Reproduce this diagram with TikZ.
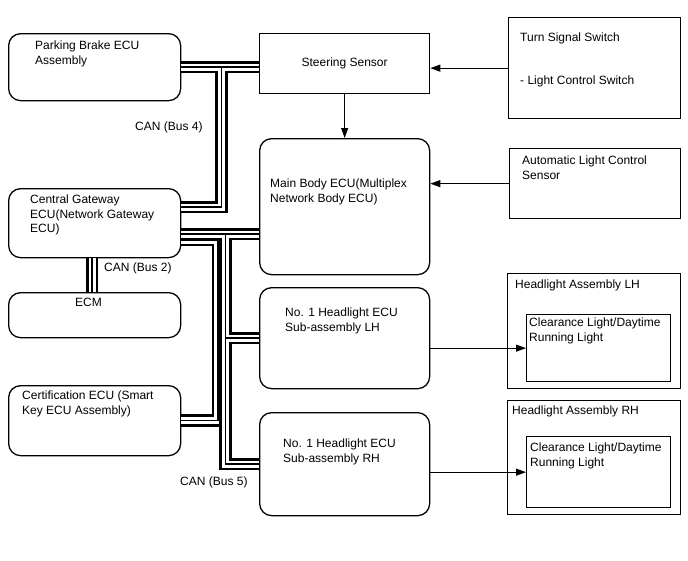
\documentclass[tikz,border=0pt]{standalone}
\usepackage{fontspec}
\setmainfont{Liberation Sans}
\usetikzlibrary{calc,arrows.meta}
\def\fs{\fontsize{12}{14.5}\selectfont}
\def\canbus#1{\draw[line width=12.5]#1; \draw[line width=7, white]#1; \draw[line width=1.6]#1;}
\tikzset{
  ecu/.style={draw, line width=1.3, rounded corners=12, anchor=north west, inner sep=0},
  unit/.style={draw, line width=1.3, anchor=north west, inner sep=0},
  txt/.style={anchor=north west, align=left, inner sep=0, font=\fs},
  sig/.style={line width=1, -{Triangle[length=10pt,width=7pt]}},
}

\begin{document}
\begin{tikzpicture}[x=1pt, y=-1pt]
			\useasboundingbox (0,0) rectangle (688,560);
			
			%%%%% BOXES %%%%%
			\node[ecu, minimum width=172, minimum height=67] (pb) at (8,33) {};
			\node[unit, minimum width=170, minimum height=60, font=\fs] (steer) at (259,33) {Steering Sensor};
			\node[unit, minimum width=172, minimum height=101] (turn) at (508,17) {};
			\node[ecu, minimum width=170, minimum height=136] (main) at (259,138) {};
			\node[unit, minimum width=171, minimum height=70] (auto) at (509,148) {};
			\node[ecu, minimum width=172, minimum height=69] (gw) at (8,188) {};
			\node[ecu, minimum width=172, minimum height=45] (ecm) at (8,292) {};
			\node[ecu, minimum width=170, minimum height=101] (lh) at (259,287) {};
			\node[unit, minimum width=173, minimum height=115] (hlh) at (507,273) {};
			\node[unit, minimum width=144, minimum height=67] (lhlamp) at (526,314) {};
			\node[ecu, minimum width=172, minimum height=70] (cert) at (8,385) {};
			\node[ecu, minimum width=170, minimum height=103] (rh) at (259,412) {};
			\node[unit, minimum width=173, minimum height=114] (hrh) at (507,400) {};
			\node[unit, minimum width=144, minimum height=71] (rhlamp) at (526,436) {};
			
			%%%%% TEXTS %%%%%
			\node[txt] (pbtxt) at (35,41) {Parking Brake ECU\\Assembly};
			\node[txt] (turntxt) at (520,33) {Turn Signal Switch\\[28pt]- Light Control Switch};
			\node[txt] (maintxt) at (270,179) {Main Body ECU(Multiplex\\Network Body ECU)};
			\node[txt] (autotxt) at (522,156) {Automatic Light Control\\Sensor};
			\node[txt] (gwtxt) at (30,195) {Central Gateway\\ECU(Network Gateway\\ECU)};
			\node[txt] (ecmtxt) at (75,298) {ECM};
			\node[txt] (lhtxt) at (285,308) {No. 1 Headlight ECU\\Sub-assembly LH};
			\node[txt] (hlhtxt) at (515,280) {Headlight Assembly LH};
			\node[txt] (lhlamptxt) at (529,318) {Clearance Light/Daytime\\Running Light};
			\node[txt] (certtxt) at (22,391) {Certification ECU (Smart\\Key ECU Assembly)};
			\node[txt] (rhtxt) at (283,439) {No. 1 Headlight ECU\\Sub-assembly RH};
			\node[txt] (hrhtxt) at (512,406) {Headlight Assembly RH};
			\node[txt] (rhlamptxt) at (530,443) {Clearance Light/Daytime\\Running Light};
			\node[txt] (bus4) at (135,122) {CAN (Bus 4)};
			\node[txt] (bus2) at (104,263) {CAN (Bus 2)};
			\node[txt] (bus5) at (180,477) {CAN (Bus 5)};
			
			%%%%% SIGNALS %%%%%
			\draw[sig] (turn.west) -- (turn.west -| steer.east);
			\draw[sig] (steer.south) -- (main.north);
			\draw[sig] (auto.west) -- (auto.west -| main.east);
			\draw[sig] (lhlamp.west -| lh.east) -- (lhlamp.west);
			\draw[sig] (rhlamp.west -| rh.east) -- (rhlamp.west);
			
			%%%%% CAN BUSES %%%%%
			\coordinate (k4) at ($(pb.east)+(40,0)$);
			\coordinate (g4) at ($(gw.north east)+(0,19)$);
			\canbus{(pb.east) -- (pb.east -| steer.west) (k4) -- (k4 |- g4) -- (g4)}
			
			\coordinate (g2) at ($(gw.south)+(-2.5,0)$);
			\canbus{(g2) -- (g2 |- ecm.north)}
			
			\coordinate (gB) at ($(gw.north east)+(0,52)$);
			\coordinate (kB) at ($(gB)+(36.5,0)$);
			\canbus{(gB) -- (kB) -- (kB |- cert.east) -- (cert.east)}
			
			\coordinate (gA) at ($(gw.north east)+(0,46)$);
			\coordinate (kA) at ($(gA)+(44,0)$);
			\canbus{(gA) -- (gA -| main.west) (kA) -- (kA |- rh.west) -- (rh.west) (kA |- lh.west) -- (lh.west)}
		\end{tikzpicture}
\end{document}
